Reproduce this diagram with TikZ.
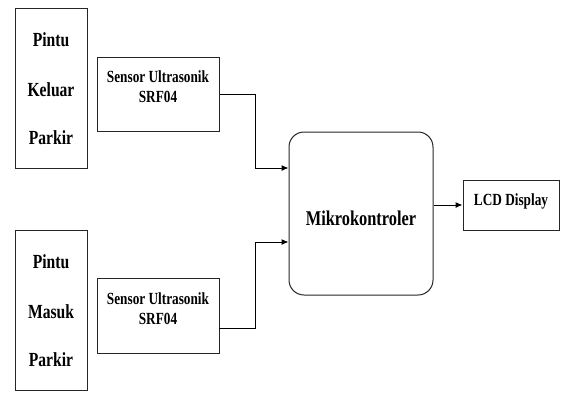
\documentclass[tikz,border=0pt]{standalone}
\usepackage{fontspec}
\setmainfont{Liberation Serif}[FakeStretch=0.78]
\usetikzlibrary{arrows.meta}
\begin{document}
\begin{tikzpicture}[x=1pt,y=-1pt,
  box/.style={draw=black!85, line width=1pt, inner sep=0pt},
  arr/.style={line width=1pt, -{Latex[length=7pt,width=6pt]}},
  lbl/.style={font=\bfseries\fontsize{17}{20}\selectfont, align=center, inner sep=0pt},
  big/.style={font=\bfseries\fontsize{20}{24}\selectfont, inner sep=0pt}]
\useasboundingbox (0,0) rectangle (566,392);
% left boxes
\node[box, minimum width=72pt, minimum height=160pt] (gk) at (51,88) {};
\node[big] (gk1) at (51,40) {Pintu};
\node[big] (gk2) at (51,90) {Keluar};
\node[big] (gk3) at (51,138) {Parkir};
\node[box, minimum width=72pt, minimum height=160pt] (gm) at (51,310) {};
\node[big] (gm1) at (51,262) {Pintu};
\node[big] (gm2) at (51,312) {Masuk};
\node[big] (gm3) at (51,360) {Parkir};
% sensors
\node[box, minimum width=122pt, minimum height=74pt] (s1) at (158,94) {};
\node[lbl] (s1t) at (158,87) {Sensor Ultrasonik\\SRF04};
\node[box, minimum width=122pt, minimum height=75pt] (s2) at (158,315.5) {};
\node[lbl] (s2t) at (158,309) {Sensor Ultrasonik\\SRF04};
% microcontroller
\node[box, rounded corners=15pt, minimum width=144pt, minimum height=163pt] (mk) at (361,213.5) {};
\node[font=\bfseries\fontsize{21}{24}\selectfont, inner sep=0pt] (mkt) at (361,218) {Mikrokontroler};
% LCD
\node[box, minimum width=96pt, minimum height=50pt] (lcd) at (511,205) {};
\node[lbl] (lcdt) at (511,201) {LCD Display};
% connectors
\coordinate (j1) at (255,168);
\coordinate (j2) at (255,242);
\coordinate (o2) at (219,328);
\draw[arr] (s1.east) -| (j1) -- (mk.west |- j1);
\draw[arr] (o2) -| (j2) -- (mk.west |- j2);
\draw[arr] (mk.east |- lcd.west) -- (lcd.west);
\end{tikzpicture}
\end{document}
